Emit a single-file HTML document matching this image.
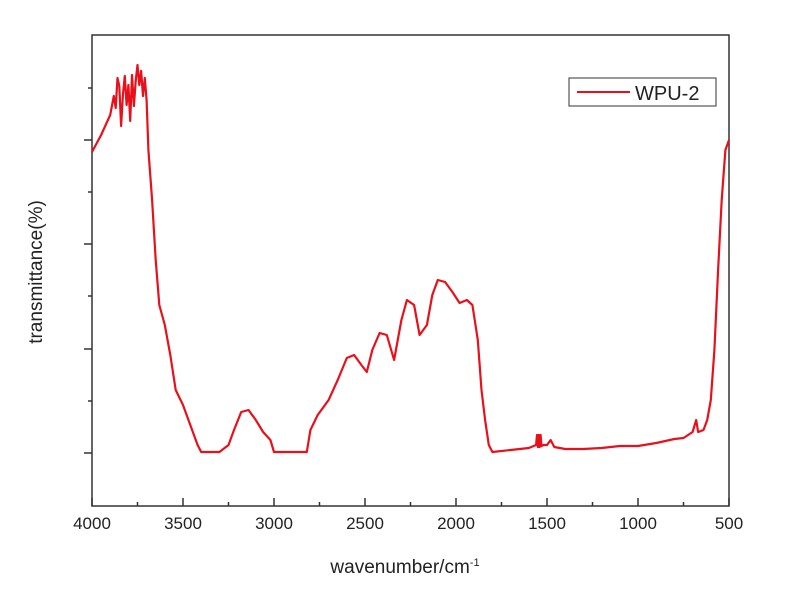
<!DOCTYPE html>
<html><head><meta charset="utf-8"><style>
body{margin:0;background:#fff;}
svg text{font-family:"Liberation Sans",Arial,sans-serif;fill:#222;}
</style></head><body>
<svg id="chart" width="800" height="593" viewBox="0 0 800 593">
<g id="axes"></g>
<path id="series" fill="none" stroke="#e8101a" stroke-width="2.2" stroke-linejoin="round"/>
<g>
<rect x="569" y="78" width="147" height="28" fill="#fff" stroke="#333" stroke-width="1"/>
<line x1="577" y1="92" x2="630" y2="92" stroke="#e8101a" stroke-width="2"/>
<text x="635" y="100" font-size="20">WPU-2</text>
</g>
<text x="405" y="573" font-size="19" text-anchor="middle">wavenumber/cm<tspan font-size="11" dy="-7">-1</tspan></text>
<text transform="translate(42,272) rotate(-90)" font-size="19" text-anchor="middle">transmittance(%)</text>
</svg>
<script>
const wavenumbers=[4000,3950,3900,3880,3870,3860,3850,3840,3830,3820,3810,3800,3790,3780,3770,3760,3750,3740,3730,3720,3710,3700,3690,3670,3650,3630,3600,3570,3540,3500,3460,3420,3400,3300,3250,3220,3180,3140,3100,3060,3020,3000,2820,2800,2760,2700,2650,2600,2560,2520,2490,2460,2420,2380,2340,2300,2270,2230,2200,2160,2130,2100,2060,2020,1980,1940,1910,1880,1860,1840,1820,1800,1700,1600,1560,1555,1550,1545,1540,1535,1530,1520,1500,1480,1460,1400,1300,1200,1100,1000,900,800,750,700,680,670,640,620,600,580,560,540,520,500];
const transmittance=[354,371,391,410,398,428,420,380,411,430,401,421,385,431,400,425,441,421,435,410,428,406,356,306,246,201,181,151,116,101,81,61,54,54,61,76,94,96,86,74,66,54,54,76,91,106,126,148,151,141,134,156,173,171,146,186,206,201,171,181,211,226,224,214,203,206,201,166,116,86,61,54,56,58,61,71,59,71,59,71,60,61,61,66,59,57,57,58,60,60,63,67,68,74,86,74,76,86,106,156,236,306,356,366];
const xMin=4000,xMax=500,yMin=0,yMax=471;
const L=92,R=729,T=35,B=506;
const sx=v=>L+(xMin-v)/(xMin-xMax)*(R-L);
const sy=v=>B-(v-yMin)/(yMax-yMin)*(B-T);
const NS='http://www.w3.org/2000/svg';
const ax=document.getElementById('axes');
function mk(tag,attrs){const e=document.createElementNS(NS,tag);for(const k in attrs)e.setAttribute(k,attrs[k]);ax.appendChild(e);return e;}
const frame=mk('rect',{x:L,y:T,width:R-L,height:B-T,fill:'none',stroke:'#333','stroke-width':1.5});


const xTicks=[4000,3500,3000,2500,2000,1500,1000,500];
xTicks.forEach(v=>{
 const x=sx(v);
 const t=mk('line',{x1:x,y1:B,x2:x,y2:B-8,stroke:'#333','stroke-width':1.5});
 
 
 const lb=mk('text',{x:x,y:529,'font-size':17,'text-anchor':'middle'});lb.textContent=v;
 
 
 if(v>500){const m=sx(v-250);const mt=mk('line',{x1:m,y1:B,x2:m,y2:B-4,stroke:'#333','stroke-width':1.5});
 
 }
});
const yMajor=[53,157,262,366];
const yMinor=[105,210,314,418];
yMajor.forEach(v=>{const y=sy(v);const t=mk('line',{x1:L,y1:y,x2:L-8,y2:y,stroke:'#333','stroke-width':1.5});
 
 });
yMinor.forEach(v=>{const y=sy(v);const t=mk('line',{x1:L,y1:y,x2:L-4,y2:y,stroke:'#333','stroke-width':1.5});
 
 });
let d='';
wavenumbers.forEach((w,i)=>{d+=(i?'L':'M')+sx(w).toFixed(1)+','+sy(transmittance[i]).toFixed(1);});
document.getElementById('series').setAttribute('d',d);
</script>
</body></html>
